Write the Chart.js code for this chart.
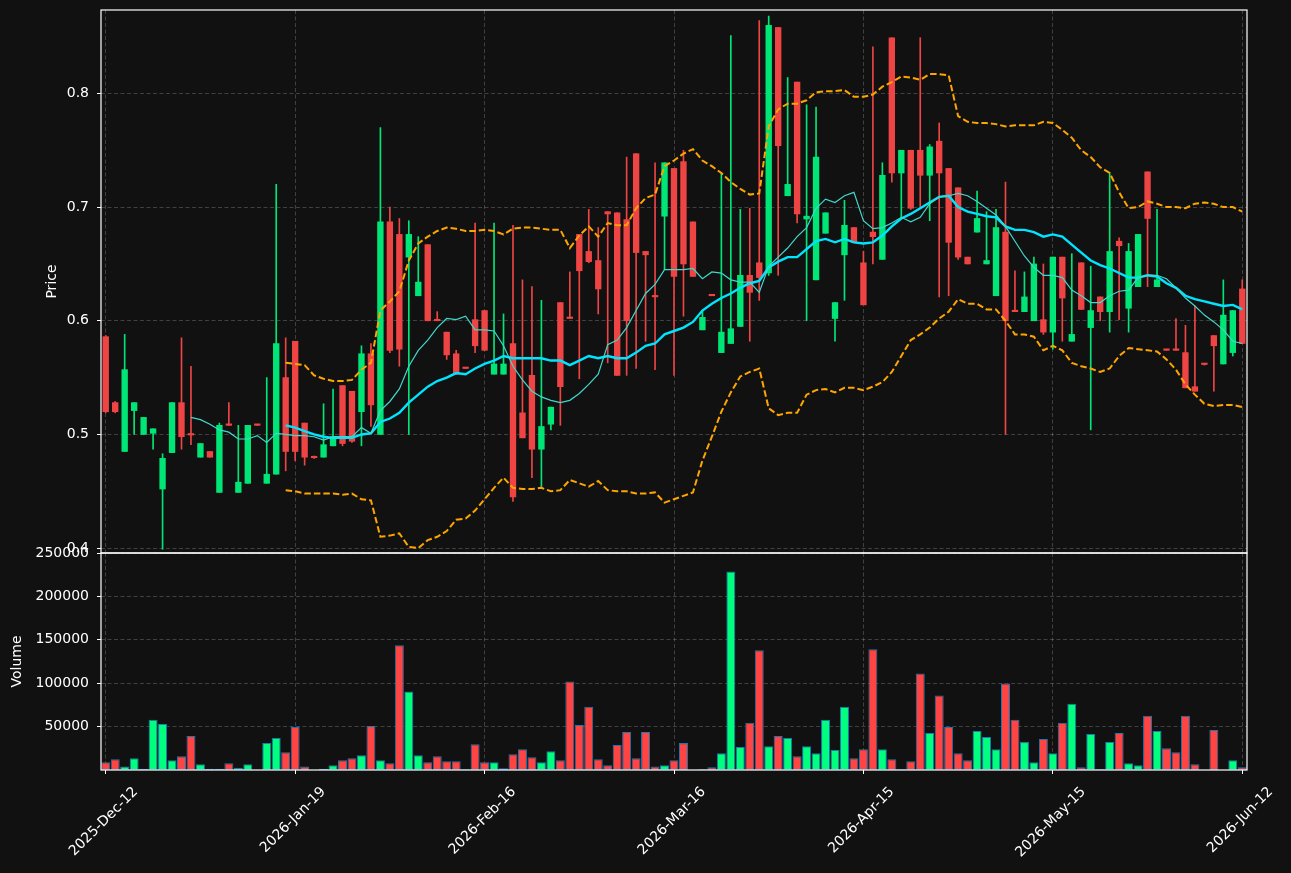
<!DOCTYPE html>
<html>
<head>
<meta charset="utf-8">
<script src="https://cdn.jsdelivr.net/npm/chart.js@4.4.1/dist/chart.umd.min.js"></script>
<style>
    html, body { margin: 0; padding: 0; background: #111111; }
    #wrap { position: relative; width: 1291px; height: 873px; overflow: hidden; }
    #priceChart { position: absolute; left: 0; top: 0; }
    #volumeChart { position: absolute; left: 0; top: 533px; }
</style>
</head>
<body>
<div id="wrap">
    <canvas id="priceChart" width="1291" height="554"></canvas>
    <canvas id="volumeChart" width="1291" height="340"></canvas>
</div>
<script>
const tickLabels = ['2025-Dec-12', '2026-Jan-19', '2026-Feb-16', '2026-Mar-16', '2026-Apr-15', '2026-May-15', '2026-Jun-12'];
const tickPositions = [0, 20, 40, 60, 80, 100, 120];
const priceTicks = [0.4, 0.5, 0.6, 0.7, 0.8];
const volumeTicks = [50000, 100000, 150000, 200000, 250000];

const opens = [
    0.586, 0.528, 0.485, 0.521, 0.500, 0.501, 0.452, 0.484, 0.528, 0.5005,
    0.480, 0.485, 0.449, 0.5088, 0.449, 0.457, 0.5088, 0.457, 0.465, 0.550,
    0.582, 0.510, 0.4805, 0.480, 0.490, 0.543, 0.538, 0.520, 0.571, 0.500,
    0.687, 0.676, 0.656, 0.622, 0.667, 0.6005, 0.590, 0.571, 0.5585, 0.601,
    0.609, 0.553, 0.553, 0.580, 0.519, 0.552, 0.487, 0.509, 0.616, 0.6025,
    0.676, 0.661, 0.653, 0.696, 0.695, 0.689, 0.747, 0.661, 0.6215, 0.692,
    0.734, 0.740, 0.687, 0.592, 0.6225, 0.572, 0.580, 0.595, 0.640, 0.651,
    0.642, 0.858, 0.710, 0.810, 0.6895, 0.636, 0.677, 0.602, 0.658, 0.682,
    0.651, 0.678, 0.654, 0.849, 0.730, 0.750, 0.750, 0.728, 0.758, 0.734,
    0.717, 0.656, 0.678, 0.650, 0.622, 0.678, 0.6085, 0.608, 0.600, 0.601,
    0.590, 0.656, 0.582, 0.651, 0.594, 0.621, 0.608, 0.670, 0.611, 0.630,
    0.731, 0.630, 0.5745, 0.5745, 0.572, 0.542, 0.562, 0.587, 0.562, 0.572,
    0.628
];
const highs = [
    0.587, 0.529, 0.588, 0.528, 0.515, 0.505, 0.483, 0.528, 0.585, 0.560,
    0.492, 0.485, 0.510, 0.528, 0.508, 0.508, 0.509, 0.550, 0.720, 0.585,
    0.582, 0.510, 0.481, 0.527, 0.540, 0.543, 0.538, 0.578, 0.580, 0.770,
    0.700, 0.690, 0.688, 0.674, 0.667, 0.608, 0.590, 0.574, 0.559, 0.686,
    0.609, 0.686, 0.606, 0.684, 0.636, 0.630, 0.618, 0.524, 0.616, 0.643,
    0.676, 0.698, 0.682, 0.696, 0.695, 0.744, 0.747, 0.661, 0.739, 0.739,
    0.734, 0.750, 0.687, 0.609, 0.623, 0.730, 0.851, 0.698, 0.699, 0.864,
    0.868, 0.858, 0.814, 0.810, 0.790, 0.788, 0.695, 0.616, 0.706, 0.682,
    0.661, 0.841, 0.739, 0.849, 0.750, 0.750, 0.849, 0.755, 0.774, 0.734,
    0.717, 0.656, 0.714, 0.696, 0.698, 0.722, 0.644, 0.643, 0.656, 0.650,
    0.656, 0.656, 0.659, 0.651, 0.648, 0.621, 0.730, 0.673, 0.668, 0.676,
    0.731, 0.698, 0.575, 0.602, 0.596, 0.613, 0.562, 0.587, 0.636, 0.609,
    0.636
];
const lows = [
    0.519, 0.519, 0.485, 0.500, 0.500, 0.487, 0.399, 0.484, 0.487, 0.491,
    0.480, 0.480, 0.449, 0.508, 0.449, 0.457, 0.508, 0.457, 0.465, 0.468,
    0.477, 0.473, 0.479, 0.480, 0.490, 0.490, 0.493, 0.490, 0.507, 0.500,
    0.572, 0.560, 0.500, 0.622, 0.600, 0.600, 0.566, 0.553, 0.558, 0.572,
    0.574, 0.553, 0.553, 0.441, 0.497, 0.462, 0.453, 0.504, 0.508, 0.602,
    0.549, 0.651, 0.606, 0.563, 0.552, 0.552, 0.558, 0.582, 0.557, 0.645,
    0.552, 0.604, 0.639, 0.592, 0.622, 0.572, 0.580, 0.595, 0.582, 0.618,
    0.640, 0.640, 0.710, 0.686, 0.600, 0.636, 0.677, 0.582, 0.618, 0.669,
    0.614, 0.650, 0.654, 0.722, 0.691, 0.698, 0.699, 0.688, 0.621, 0.622,
    0.654, 0.650, 0.678, 0.650, 0.622, 0.500, 0.608, 0.608, 0.600, 0.588,
    0.575, 0.582, 0.582, 0.610, 0.504, 0.600, 0.590, 0.601, 0.590, 0.630,
    0.630, 0.630, 0.574, 0.574, 0.541, 0.538, 0.561, 0.538, 0.562, 0.569,
    0.580
];
const closes = [
    0.520, 0.520, 0.557, 0.528, 0.515, 0.505, 0.479, 0.528, 0.498, 0.4995,
    0.492, 0.480, 0.508, 0.508, 0.458, 0.508, 0.508, 0.465, 0.580, 0.485,
    0.485, 0.480, 0.4795, 0.491, 0.498, 0.492, 0.494, 0.571, 0.526, 0.687,
    0.574, 0.575, 0.676, 0.634, 0.600, 0.600, 0.570, 0.553, 0.558, 0.578,
    0.574, 0.562, 0.562, 0.445, 0.497, 0.487, 0.507, 0.524, 0.542, 0.602,
    0.644, 0.652, 0.628, 0.694, 0.552, 0.600, 0.660, 0.658, 0.621, 0.739,
    0.639, 0.650, 0.639, 0.603, 0.622, 0.590, 0.593, 0.640, 0.625, 0.638,
    0.860, 0.754, 0.720, 0.694, 0.692, 0.744, 0.695, 0.616, 0.684, 0.669,
    0.614, 0.674, 0.728, 0.730, 0.750, 0.699, 0.728, 0.753, 0.730, 0.669,
    0.656, 0.650, 0.690, 0.653, 0.682, 0.600, 0.608, 0.621, 0.650, 0.590,
    0.656, 0.620, 0.588, 0.610, 0.609, 0.608, 0.661, 0.666, 0.661, 0.676,
    0.690, 0.636, 0.574, 0.574, 0.541, 0.538, 0.5615, 0.578, 0.605, 0.609,
    0.580
];
const volumes = [
    8900, 12400, 3900, 13600, 1500, 57800, 53100, 11200, 15900, 39100,
    6600, 1500, 1500, 7800, 2700, 6600, 0, 31000, 36800, 20500,
    49600, 3900, 0, 1500, 5400, 11200, 13600, 17100, 50800, 11200,
    7800, 143800, 90300, 17100, 8900, 15900, 10100, 10100, 800, 29800,
    8900, 8900, 1900, 18200, 24000, 14700, 8900, 21700, 11200, 101900,
    51900, 72900, 12400, 5400, 28700, 43800, 13600, 43800, 3900, 5400,
    11200, 31000, 0, 800, 3100, 19400, 228700, 26400, 54300, 138000,
    27500, 39100, 36800, 15900, 27500, 19400, 57800, 22900, 72900, 13600,
    24000, 139100, 24000, 12400, 800, 10100, 111200, 42600, 85700, 49600,
    19400, 11200, 45000, 38000, 24000, 99600, 57800, 32200, 8900, 35700,
    19400, 54300, 76400, 3100, 41500, 800, 32200, 42600, 7800, 5400,
    62400, 45000, 25200, 20500, 62400, 6600, 0, 46100, 0, 11200,
    3100
];
const ma10 = [
    null, null, null, null, null, null, null, null, null,
    0.515, 0.513, 0.509, 0.504, 0.502, 0.496, 0.496, 0.499, 0.493, 0.501,
    0.500, 0.499, 0.499, 0.498, 0.495, 0.498, 0.498, 0.498, 0.506, 0.501,
    0.521, 0.529, 0.540, 0.560, 0.574, 0.583, 0.594, 0.602, 0.601, 0.604,
    0.592, 0.592, 0.591, 0.578, 0.560, 0.548, 0.538, 0.533, 0.530, 0.528,
    0.530, 0.536, 0.544, 0.553, 0.579, 0.583, 0.594, 0.609, 0.624, 0.632,
    0.645, 0.645, 0.645, 0.646, 0.637, 0.643, 0.642, 0.636, 0.634, 0.634,
    0.625, 0.648, 0.656, 0.664, 0.674, 0.682, 0.699, 0.707, 0.704, 0.710,
    0.713, 0.688, 0.681, 0.682, 0.686, 0.691, 0.687, 0.691, 0.703, 0.709,
    0.710, 0.712, 0.710, 0.705, 0.699, 0.693, 0.683, 0.670, 0.657, 0.647,
    0.640, 0.640, 0.638, 0.627, 0.622, 0.616, 0.616, 0.622, 0.626, 0.627,
    0.638, 0.640, 0.640, 0.637, 0.629, 0.620, 0.613, 0.605, 0.599, 0.592,
    0.582, 0.580
];
const ma20 = [
    null, null, null, null, null, null, null, null, null, null,
    null, null, null, null, null, null, null, null, null,
    0.508, 0.506, 0.503, 0.500, 0.498, 0.497, 0.497, 0.497, 0.500, 0.501,
    0.511, 0.514, 0.519, 0.528, 0.535, 0.542, 0.547, 0.550, 0.554, 0.553,
    0.558, 0.562, 0.565, 0.569, 0.567, 0.567, 0.567, 0.567, 0.565, 0.565,
    0.561, 0.565, 0.569, 0.567, 0.569, 0.567, 0.567, 0.572, 0.578, 0.580,
    0.588, 0.591, 0.594, 0.599, 0.609, 0.615, 0.620, 0.624, 0.629, 0.633,
    0.635, 0.647, 0.652, 0.656, 0.656, 0.663, 0.670, 0.672, 0.669, 0.672,
    0.669, 0.668, 0.669, 0.675, 0.683, 0.690, 0.694, 0.699, 0.704, 0.709,
    0.710, 0.700, 0.696, 0.694, 0.692, 0.691, 0.683, 0.680, 0.680, 0.678,
    0.674, 0.676, 0.674, 0.667, 0.660, 0.653, 0.649, 0.646, 0.642, 0.638,
    0.638, 0.640, 0.639, 0.633, 0.629, 0.622, 0.619, 0.617, 0.615, 0.613,
    0.614, 0.610
];
const bbUpper = [
    null, null, null, null, null, null, null, null, null, null,
    null, null, null, null, null, null, null, null, null,
    0.563, 0.562, 0.561, 0.552, 0.549, 0.547, 0.547, 0.548, 0.557, 0.563,
    0.609, 0.617, 0.626, 0.653, 0.668, 0.674, 0.679, 0.682, 0.681, 0.679,
    0.679, 0.680, 0.679, 0.676, 0.681, 0.682, 0.682, 0.681, 0.680, 0.680,
    0.664, 0.675, 0.683, 0.674, 0.686, 0.684, 0.684, 0.699, 0.708, 0.711,
    0.736, 0.741, 0.747, 0.751, 0.741, 0.736, 0.730, 0.722, 0.716, 0.711,
    0.712, 0.771, 0.786, 0.791, 0.791, 0.794, 0.801, 0.802, 0.802, 0.803,
    0.797, 0.797, 0.799, 0.806, 0.810, 0.815, 0.814, 0.812, 0.817, 0.817,
    0.816, 0.780, 0.775, 0.774, 0.774, 0.773, 0.771, 0.772, 0.772, 0.772,
    0.775, 0.774, 0.768, 0.761, 0.750, 0.744, 0.735, 0.730, 0.713, 0.699,
    0.700, 0.705, 0.703, 0.700, 0.700, 0.699, 0.703, 0.704, 0.703, 0.700,
    0.700, 0.696
];
const bbLower = [
    null, null, null, null, null, null, null, null, null, null,
    null, null, null, null, null, null, null, null, null,
    0.451, 0.450, 0.448, 0.448, 0.448, 0.448, 0.447, 0.448, 0.443, 0.442,
    0.410, 0.411, 0.413, 0.401, 0.400, 0.407, 0.410, 0.415, 0.425, 0.426,
    0.433, 0.443, 0.453, 0.462, 0.453, 0.452, 0.452, 0.453, 0.450, 0.451,
    0.460, 0.457, 0.454, 0.459, 0.451, 0.450, 0.450, 0.448, 0.448, 0.449,
    0.440, 0.443, 0.446, 0.449, 0.477, 0.498, 0.520, 0.537, 0.551, 0.555,
    0.558, 0.523, 0.517, 0.519, 0.519, 0.535, 0.539, 0.540, 0.537, 0.541,
    0.541, 0.539, 0.542, 0.546, 0.555, 0.569, 0.583, 0.588, 0.594, 0.602,
    0.608, 0.619, 0.615, 0.615, 0.610, 0.610, 0.600, 0.588, 0.588, 0.586,
    0.574, 0.578, 0.574, 0.563, 0.560, 0.558, 0.555, 0.558, 0.569, 0.576,
    0.575, 0.574, 0.573, 0.566, 0.557, 0.544, 0.535, 0.527, 0.525, 0.526,
    0.526, 0.524
];

document.addEventListener("DOMContentLoaded", function() {
    Chart.defaults.font.family = '"DejaVu Sans", sans-serif';
    Chart.defaults.font.size = 14;
    Chart.defaults.color = '#ffffff';

    const candleUp = '#00e676';
    const candleDown = '#ef4444';
    const volUp = '#00ff7f';
    const volDown = '#ff4444';
    const gridColor = 'rgba(255,255,255,0.2)';
    const gridDash = [4, 2.5];

    const labels = closes.map((_, i) => i);
    const isUp = closes.map((c, i) => c >= opens[i]);

    // white frame round each panel
    const framePlugin = {
        id: 'frame',
        afterDraw(chart) {
            const a = chart.chartArea;
            const ctx = chart.ctx;
            ctx.save();
            ctx.strokeStyle = '#ffffff';
            ctx.lineWidth = 1.2;
            ctx.strokeRect(a.left, a.top, a.right - a.left, a.bottom - a.top);
            ctx.restore();
        }
    };

    // rotated date labels centred on their ticks
    const dateLabelPlugin = {
        id: 'dateLabels',
        afterDraw(chart) {
            const xs = chart.scales.x;
            const ctx = chart.ctx;
            ctx.save();
            ctx.font = '14px "DejaVu Sans", sans-serif';
            ctx.fillStyle = '#ffffff';
            ctx.textAlign = 'center';
            ctx.textBaseline = 'middle';
            tickLabels.forEach((label, k) => {
                const px = xs.getPixelForValue(tickPositions[k]);
                const w = ctx.measureText(label).width;
                const cy = chart.chartArea.bottom + 14 + (w + 16) * 0.3536;
                ctx.save();
                ctx.translate(px - 2, cy);
                ctx.rotate(-Math.PI / 4);
                ctx.fillText(label, 0, 0);
                ctx.restore();
            });
            ctx.restore();
        }
    };

    function noPad(s) {
        s.paddingTop = 0; s.paddingBottom = 0; s.paddingLeft = 0; s.paddingRight = 0;
    }

    const xTicks = s => { s.ticks = tickPositions.map(v => ({ value: v })); };

    new Chart(document.getElementById('priceChart'), {
        type: 'bar',
        data: {
            labels: labels,
            datasets: [
                { type: 'line', label: 'MA10', data: ma10, borderColor: '#40d8cc', borderWidth: 1.2, pointRadius: 0, order: 0 },
                { type: 'line', label: 'MA20', data: ma20, borderColor: '#00e5ff', borderWidth: 2.4, pointRadius: 0, order: 0 },
                { type: 'line', label: 'BB upper', data: bbUpper, borderColor: '#ffa500', borderWidth: 2, borderDash: [6.5, 3], pointRadius: 0, order: 0 },
                { type: 'line', label: 'BB lower', data: bbLower, borderColor: '#ffa500', borderWidth: 2, borderDash: [6.5, 3], pointRadius: 0, order: 0 },
                {
                    label: 'Body',
                    data: opens.map((o, i) => [o, closes[i]]),
                    backgroundColor: isUp.map(u => u ? candleUp : candleDown),
                    barThickness: 5.7,
                    minBarLength: 1.5,
                    grouped: false,
                    order: 1
                },
                {
                    label: 'Wick',
                    data: lows.map((l, i) => [l, highs[i]]),
                    backgroundColor: isUp.map(u => u ? candleUp : candleDown),
                    barThickness: 1,
                    grouped: false,
                    order: 2
                }
            ]
        },
        options: {
            responsive: false,
            animation: false,
            devicePixelRatio: 1,
            events: [],
            layout: { padding: { top: 10, right: 44, bottom: 0, left: 0 } },
            plugins: { legend: { display: false }, tooltip: { enabled: false } },
            scales: {
                x: {
                    offset: true,
                    afterBuildTicks: xTicks,
                    afterFit: s => { s.height = 1; noPad(s); },
                    ticks: { display: false },
                    grid: { color: gridColor, drawTicks: false, offset: false },
                    border: { display: false, dash: gridDash }
                },
                y: {
                    min: 0.3957,
                    max: 0.8734,
                    bounds: 'data',
                    afterBuildTicks: s => { s.ticks = priceTicks.map(v => ({ value: v })); },
                    afterFit: s => { s.width = 101; noPad(s); },
                    ticks: { padding: 8, callback: v => String(v) },
                    grid: { color: gridColor, tickColor: '#ffffff', tickLength: 4, tickBorderDash: [] },
                    border: { display: false, dash: gridDash },
                    title: { display: true, text: 'Price', padding: { top: 44, bottom: 0 } }
                }
            }
        },
        plugins: [framePlugin]
    });

    new Chart(document.getElementById('volumeChart'), {
        type: 'bar',
        data: {
            labels: labels,
            datasets: [{
                label: 'Volume',
                data: volumes,
                backgroundColor: isUp.map(u => u ? volUp : volDown),
                borderColor: '#1f77b4',
                borderWidth: 1,
                borderSkipped: false,
                categoryPercentage: 1,
                barPercentage: 0.95
            }]
        },
        options: {
            responsive: false,
            animation: false,
            devicePixelRatio: 1,
            events: [],
            layout: { padding: { top: 20, right: 44, bottom: 0, left: 0 } },
            plugins: { legend: { display: false }, tooltip: { enabled: false } },
            scales: {
                x: {
                    offset: true,
                    afterBuildTicks: xTicks,
                    afterFit: s => { s.height = 103; noPad(s); },
                    ticks: { display: false },
                    grid: { color: gridColor, tickColor: '#ffffff', tickLength: 4, tickBorderDash: [], offset: false },
                    border: { display: false, dash: gridDash }
                },
                y: {
                    min: 0,
                    max: 250000,
                    bounds: 'data',
                    afterBuildTicks: s => { s.ticks = volumeTicks.map(v => ({ value: v })); },
                    afterFit: s => { s.width = 101; noPad(s); },
                    ticks: { padding: 8, callback: v => String(v) },
                    grid: { color: gridColor, tickColor: '#ffffff', tickLength: 4, tickBorderDash: [] },
                    border: { display: false, dash: gridDash },
                    title: { display: true, text: 'Volume', padding: { top: 9, bottom: 0 } }
                }
            }
        },
        plugins: [framePlugin, dateLabelPlugin]
    });
});
</script>
</body>
</html>
